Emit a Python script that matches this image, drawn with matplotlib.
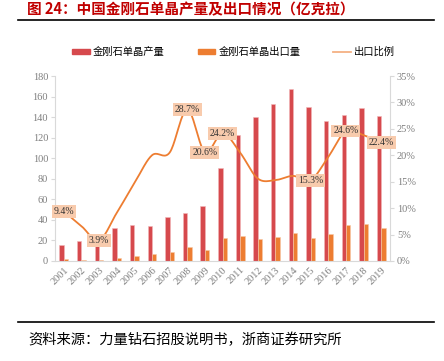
import numpy as np
import matplotlib
matplotlib.use('Agg')
import matplotlib.pyplot as plt
from matplotlib.lines import Line2D
from matplotlib.patches import Patch

years = [str(y) for y in range(2001, 2020)]
production = [15.6, 19.3, 25.0, 32.4, 35.0, 34.2, 42.8, 46.7, 53.5, 90.8,
              122.6, 139.8, 153.0, 167.3, 149.5, 135.9, 142.0, 148.5, 141.4]
export = [1.5, 1.2, 1.0, 3.2, 5.2, 7.1, 9.0, 13.6, 11.0, 22.0,
          24.0, 21.4, 23.3, 27.2, 22.7, 26.6, 35.0, 35.7, 31.8]
ratio = [9.4, 6.6, 3.9, 9.1, 14.7, 20.0, 20.5, 28.7, 20.6, 24.2,
         20.5, 15.6, 15.3, 16.1, 15.3, 19.7, 24.6, 23.8, 22.4]
labelled = {0: '9.4%', 2: '3.9%', 7: '28.7%', 8: '20.6%', 9: '24.2%',
            14: '15.3%', 16: '24.6%', 18: '22.4%'}

RED = '#D6494D'
ORANGE = '#ED7D31'
GREY = '#7F7F7F'
CJK = ['Noto Sans CJK SC', 'DejaVu Sans']
SERIF = ['Liberation Serif', 'DejaVu Serif']


def smooth(x, y, n=20):
    # catmull-rom style curve like Excel's smoothed line
    x = np.asarray(x, float)
    y = np.asarray(y, float)
    px = np.concatenate([[2 * x[0] - x[1]], x, [2 * x[-1] - x[-2]]])
    py = np.concatenate([[2 * y[0] - y[1]], y, [2 * y[-1] - y[-2]]])
    xs, ys = [], []
    t = np.linspace(0, 1, n, endpoint=False)
    for i in range(1, len(px) - 2):
        for p, out in ((px, xs), (py, ys)):
            p0, p1, p2, p3 = p[i - 1], p[i], p[i + 1], p[i + 2]
            out.extend(0.5 * (2 * p1 + (-p0 + p2) * t
                              + (2 * p0 - 5 * p1 + 4 * p2 - p3) * t ** 2
                              + (-p0 + 3 * p1 - 3 * p2 + p3) * t ** 3))
    xs.append(x[-1])
    ys.append(y[-1])
    return np.array(xs), np.array(ys)


fig = plt.figure(figsize=(4.44, 3.61), dpi=100)
ax = fig.add_axes([55 / 444, 1 - 261 / 361, 335 / 444, 185 / 361])
ax2 = ax.twinx()

x = np.arange(len(years))
w = 0.25
ax.bar(x - w / 2, production, w, color=RED, edgecolor='#F2B8B9', linewidth=0.4)
ax.bar(x + w / 2, export, w, color=ORANGE, edgecolor='#F7C9A8', linewidth=0.4)

sx, sy = smooth(x, ratio)
ax2.plot(sx, sy, color=ORANGE, lw=1.3)
for i, txt in labelled.items():
    ax2.text(x[i], ratio[i], txt, ha='center', va='center', fontsize=7,
             family=SERIF, color='#333333',
             bbox=dict(boxstyle='square,pad=0.2', fc='#F8CBAD', ec='none'))

ax.set_xlim(-0.5, len(years) - 0.5)
ax.set_ylim(0, 180)
ax.set_yticks(range(0, 181, 20))
ax2.set_ylim(0, 35)
ax2.set_yticks(range(0, 36, 5))
ax2.set_yticklabels([f'{v}%' for v in range(0, 36, 5)])
ax.set_xticks(x)
ax.set_xticklabels(years, rotation=45, ha='right', rotation_mode='anchor')

for a in (ax, ax2):
    for s in a.spines.values():
        s.set_visible(False)
    for lab in a.get_yticklabels() + a.get_xticklabels():
        lab.set_family(SERIF)
        lab.set_fontsize(7.5)
        lab.set_color(GREY)
ax.spines['left'].set_visible(True)
ax.spines['left'].set_color('#D9D9D9')
ax.spines['bottom'].set_visible(True)
ax.spines['bottom'].set_color('#D9D9D9')
ax2.spines['right'].set_visible(True)
ax2.spines['right'].set_color('#D9D9D9')
ax.tick_params(axis='y', length=3, color='#D9D9D9', pad=2)
ax2.tick_params(axis='y', length=3, color='#D9D9D9', pad=2)
ax.tick_params(axis='x', length=0, pad=3)

handles = [Patch(color=RED), Patch(color=ORANGE),
           Line2D([], [], color='#F4B183', lw=1.3)]
names = ['金刚石单晶产量', '金刚石单晶出口量', '出口比例']
fig.legend(handles, names, loc='center', bbox_to_anchor=(0.526, 1 - 52 / 361),
           ncol=3, frameon=False, prop={'family': CJK, 'size': 7.4},
           handlelength=1.7, handleheight=0.5, columnspacing=3.2,
           handletextpad=0.3)

fig.text(27 / 444, 1 - 9 / 361, '图 24：中国金刚石单晶产量及出口情况（亿克拉）',
         family=CJK, fontsize=10.5, fontweight='bold', color='#C00000',
         va='center')
fig.add_artist(Line2D([18 / 444, 434 / 444], [1 - 20 / 361] * 2,
                      color='black', lw=1.2))
fig.add_artist(Line2D([18 / 444, 434 / 444], [1 - 322 / 361] * 2,
                      color='black', lw=1.2))
fig.text(28 / 444, 1 - 340 / 361, '资料来源：力量钻石招股说明书，浙商证券研究所',
         family=CJK, fontsize=10.3, color='black', va='center')

fig.savefig('out.png', dpi=100)
plt.close(fig)
